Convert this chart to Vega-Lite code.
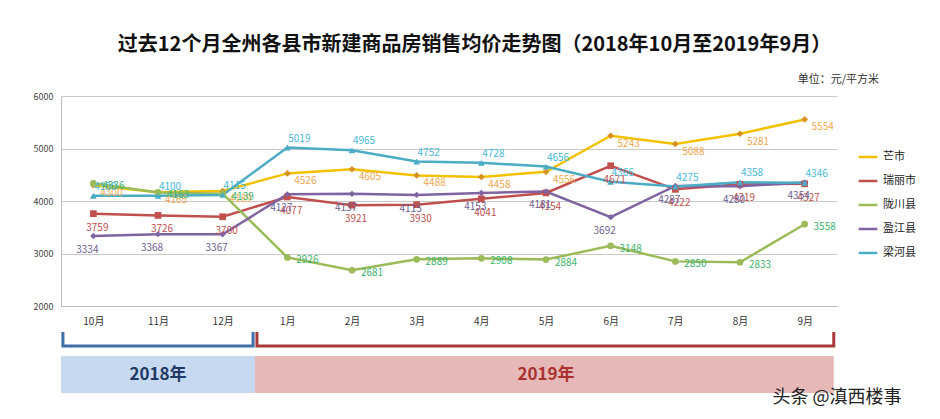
{
  "$schema": "https://vega.github.io/schema/vega-lite/v6.json",
  "background": "white",
  "padding": {"left": 33, "top": 35, "right": 5, "bottom": 5},
  "title": {"text": "过去12个月全州各县市新建商品房销售均价走势图（2018年10月至2019年9月）", "fontSize": 20, "font": "Noto Sans CJK SC", "fontWeight": "bold", "color": "#111", "anchor": "middle", "offset": 19},
  "config": {"font": "Noto Sans CJK SC", "view": {"stroke": null}},
  "spacing": 0,
  "datasets": {
    "prices": [
      {"month": "10月", "series": "芒市", "value": 4300},
      {"month": "11月", "series": "芒市", "value": 4165},
      {"month": "12月", "series": "芒市", "value": 4189},
      {"month": "1月", "series": "芒市", "value": 4526},
      {"month": "2月", "series": "芒市", "value": 4605},
      {"month": "3月", "series": "芒市", "value": 4488},
      {"month": "4月", "series": "芒市", "value": 4458},
      {"month": "5月", "series": "芒市", "value": 4556},
      {"month": "6月", "series": "芒市", "value": 5243},
      {"month": "7月", "series": "芒市", "value": 5088},
      {"month": "8月", "series": "芒市", "value": 5281},
      {"month": "9月", "series": "芒市", "value": 5554},
      {"month": "10月", "series": "瑞丽市", "value": 3759},
      {"month": "11月", "series": "瑞丽市", "value": 3726},
      {"month": "12月", "series": "瑞丽市", "value": 3700},
      {"month": "1月", "series": "瑞丽市", "value": 4077},
      {"month": "2月", "series": "瑞丽市", "value": 3921},
      {"month": "3月", "series": "瑞丽市", "value": 3930},
      {"month": "4月", "series": "瑞丽市", "value": 4041},
      {"month": "5月", "series": "瑞丽市", "value": 4154},
      {"month": "6月", "series": "瑞丽市", "value": 4671},
      {"month": "7月", "series": "瑞丽市", "value": 4222},
      {"month": "8月", "series": "瑞丽市", "value": 4319},
      {"month": "9月", "series": "瑞丽市", "value": 4327},
      {"month": "10月", "series": "陇川县", "value": 4336},
      {"month": "11月", "series": "陇川县", "value": 4163},
      {"month": "12月", "series": "陇川县", "value": 4139},
      {"month": "1月", "series": "陇川县", "value": 2926},
      {"month": "2月", "series": "陇川县", "value": 2681},
      {"month": "3月", "series": "陇川县", "value": 2889},
      {"month": "4月", "series": "陇川县", "value": 2908},
      {"month": "5月", "series": "陇川县", "value": 2884},
      {"month": "6月", "series": "陇川县", "value": 3148},
      {"month": "7月", "series": "陇川县", "value": 2850},
      {"month": "8月", "series": "陇川县", "value": 2833},
      {"month": "9月", "series": "陇川县", "value": 3558},
      {"month": "10月", "series": "盈江县", "value": 3334},
      {"month": "11月", "series": "盈江县", "value": 3368},
      {"month": "12月", "series": "盈江县", "value": 3367},
      {"month": "1月", "series": "盈江县", "value": 4127},
      {"month": "2月", "series": "盈江县", "value": 4137},
      {"month": "3月", "series": "盈江县", "value": 4115},
      {"month": "4月", "series": "盈江县", "value": 4153},
      {"month": "5月", "series": "盈江县", "value": 4181},
      {"month": "6月", "series": "盈江县", "value": 3692},
      {"month": "7月", "series": "盈江县", "value": 4287},
      {"month": "8月", "series": "盈江县", "value": 4280},
      {"month": "9月", "series": "盈江县", "value": 4354},
      {"month": "10月", "series": "梁河县", "value": 4100},
      {"month": "11月", "series": "梁河县", "value": 4100},
      {"month": "12月", "series": "梁河县", "value": 4115},
      {"month": "1月", "series": "梁河县", "value": 5019},
      {"month": "2月", "series": "梁河县", "value": 4965},
      {"month": "3月", "series": "梁河县", "value": 4752},
      {"month": "4月", "series": "梁河县", "value": 4728},
      {"month": "5月", "series": "梁河县", "value": 4656},
      {"month": "6月", "series": "梁河县", "value": 4366},
      {"month": "7月", "series": "梁河县", "value": 4275},
      {"month": "8月", "series": "梁河县", "value": 4358},
      {"month": "9月", "series": "梁河县", "value": 4346}
    ],
    "brackets": [
      {"grp": "2018", "ord": 1, "pos": -0.47, "lvl": 0},
      {"grp": "2018", "ord": 2, "pos": -0.47, "lvl": 14},
      {"grp": "2018", "ord": 3, "pos": 2.47, "lvl": 14},
      {"grp": "2018", "ord": 4, "pos": 2.47, "lvl": 0},
      {"grp": "2019", "ord": 1, "pos": 2.53, "lvl": 0},
      {"grp": "2019", "ord": 2, "pos": 2.53, "lvl": 14},
      {"grp": "2019", "ord": 3, "pos": 11.45, "lvl": 14},
      {"grp": "2019", "ord": 4, "pos": 11.45, "lvl": 0}
    ],
    "years": [
      {"grp": "2018", "label": "2018年", "start": -0.5, "end": 2.5, "mid": 1.0, "top": 24, "bottom": 61, "center": 43},
      {"grp": "2019", "label": "2019年", "start": 2.5, "end": 11.45, "mid": 7.0, "top": 24, "bottom": 61, "center": 43}
    ],
    "marks": [
      {"label": "头条 @滇西楼事", "pos": 11.5, "lvl": 66}
    ]
  },
  "vconcat": [
    {
      "width": 776,
      "height": 210,
      "title": {"text": "单位：元/平方米", "anchor": "end", "frame": "group", "fontSize": 11, "fontWeight": "normal", "color": "#333", "dx": 42, "offset": 7},
      "data": {"name": "prices"},
      "encoding": {
        "x": {"field": "month", "type": "ordinal", "sort": ["10月", "11月", "12月", "1月", "2月", "3月", "4月", "5月", "6月", "7月", "8月", "9月"], "scale": {"padding": 0.5}, "axis": {"title": null, "labelAngle": 0, "labelFontSize": 10, "labelColor": "#333", "labelPadding": 10, "ticks": false, "domainColor": "#BFBFBF", "grid": false}},
        "y": {"field": "value", "type": "quantitative", "scale": {"domain": [2000, 6000]}, "axis": {"title": null, "values": [2000, 3000, 4000, 5000, 6000], "format": "d", "labelFontSize": 9, "labelColor": "#444", "ticks": false, "labelPadding": 8, "domainColor": "#BFBFBF", "gridColor": "#C8C8C8"}}
      },
      "layer": [
        {
          "mark": {"type": "line", "strokeWidth": 2.5},
          "encoding": {
            "color": {"field": "series", "type": "nominal", "scale": {"domain": ["芒市", "瑞丽市", "陇川县", "盈江县", "梁河县"], "range": ["#F2C200", "#C0504D", "#9BBB59", "#8064A2", "#4BACC6"]}, "legend": {"title": null, "orient": "none", "legendX": 796, "legendY": 50, "labelFontSize": 11, "labelColor": "#222", "rowPadding": 8, "symbolType": "stroke", "symbolStrokeWidth": 2.5, "symbolSize": 350}}
          }
        },
        {
          "transform": [{"filter": "datum.series === '芒市'"}],
          "mark": {"type": "point", "filled": true, "size": 45, "opacity": 1, "shape": "diamond", "color": "#D9901E"}
        },
        {
          "transform": [{"filter": "datum.series === '瑞丽市'"}],
          "mark": {"type": "point", "filled": true, "size": 45, "opacity": 1, "shape": "square", "color": "#C0504D"}
        },
        {
          "transform": [{"filter": "datum.series === '陇川县'"}],
          "mark": {"type": "point", "filled": true, "size": 45, "opacity": 1, "shape": "circle", "color": "#9BBB59"}
        },
        {
          "transform": [{"filter": "datum.series === '盈江县'"}],
          "mark": {"type": "point", "filled": true, "size": 40, "opacity": 1, "shape": "diamond", "color": "#8064A2"}
        },
        {
          "transform": [{"filter": "datum.series === '梁河县'"}],
          "mark": {"type": "point", "filled": true, "size": 45, "opacity": 1, "shape": "triangle-up", "color": "#4BACC6"}
        },
        {
          "transform": [{"filter": "datum.series === '芒市'"}],
          "mark": {"type": "text", "fontSize": 10, "color": "#F0A850", "dx": 18, "dy": 8},
          "encoding": {"text": {"field": "value", "type": "quantitative", "format": "d"}}
        },
        {
          "transform": [{"filter": "datum.series === '瑞丽市'"}],
          "mark": {"type": "text", "fontSize": 10, "color": "#C0504D", "dx": 4, "dy": 14},
          "encoding": {"text": {"field": "value", "type": "quantitative", "format": "d"}}
        },
        {
          "transform": [{"filter": "datum.series === '陇川县'"}],
          "mark": {"type": "text", "fontSize": 10, "color": "#3DB56A", "dx": 20, "dy": 3},
          "encoding": {"text": {"field": "value", "type": "quantitative", "format": "d"}}
        },
        {
          "transform": [{"filter": "datum.series === '盈江县'"}],
          "mark": {"type": "text", "fontSize": 10, "color": "#6E5E90", "dx": -6, "dy": 14},
          "encoding": {"text": {"field": "value", "type": "quantitative", "format": "d"}}
        },
        {
          "transform": [{"filter": "datum.series === '梁河县'"}],
          "mark": {"type": "text", "fontSize": 10, "color": "#45B8D8", "dx": 12, "dy": -9},
          "encoding": {"text": {"field": "value", "type": "quantitative", "format": "d"}}
        }
      ]
    },
    {
      "width": 776,
      "height": 61,
      "encoding": {
        "x": {"type": "quantitative", "scale": {"domain": [-0.5, 11.5], "nice": false, "zero": false}, "axis": null},
        "y": {"type": "quantitative", "scale": {"domain": [0, 61], "reverse": true, "nice": false}, "axis": null}
      },
      "layer": [
        {
          "data": {"name": "years"},
          "transform": [{"filter": "datum.grp === '2018'"}],
          "mark": {"type": "rect", "color": "#C6D9F0"},
          "encoding": {"x": {"field": "start", "type": "quantitative"}, "x2": {"field": "end"}, "y": {"field": "top", "type": "quantitative"}, "y2": {"field": "bottom"}}
        },
        {
          "data": {"name": "years"},
          "transform": [{"filter": "datum.grp === '2019'"}],
          "mark": {"type": "rect", "color": "#E6B8B7"},
          "encoding": {"x": {"field": "start", "type": "quantitative"}, "x2": {"field": "end"}, "y": {"field": "top", "type": "quantitative"}, "y2": {"field": "bottom"}}
        },
        {
          "data": {"name": "years"},
          "transform": [{"filter": "datum.grp === '2018'"}],
          "mark": {"type": "text", "fontSize": 17, "fontWeight": "bold", "color": "#1F3864"},
          "encoding": {"x": {"field": "mid", "type": "quantitative"}, "y": {"field": "center", "type": "quantitative"}, "text": {"field": "label"}}
        },
        {
          "data": {"name": "years"},
          "transform": [{"filter": "datum.grp === '2019'"}],
          "mark": {"type": "text", "fontSize": 17, "fontWeight": "bold", "color": "#A8322F"},
          "encoding": {"x": {"field": "mid", "type": "quantitative"}, "y": {"field": "center", "type": "quantitative"}, "text": {"field": "label"}}
        },
        {
          "data": {"name": "brackets"},
          "transform": [{"filter": "datum.grp === '2018'"}],
          "mark": {"type": "line", "color": "#3F6FA8", "strokeWidth": 3},
          "encoding": {"x": {"field": "pos", "type": "quantitative"}, "y": {"field": "lvl", "type": "quantitative"}, "order": {"field": "ord"}}
        },
        {
          "data": {"name": "brackets"},
          "transform": [{"filter": "datum.grp === '2019'"}],
          "mark": {"type": "line", "color": "#A83A3A", "strokeWidth": 3},
          "encoding": {"x": {"field": "pos", "type": "quantitative"}, "y": {"field": "lvl", "type": "quantitative"}, "order": {"field": "ord"}}
        },
        {
          "data": {"name": "marks"},
          "mark": {"type": "text", "fontSize": 18, "color": "#222", "align": "center", "baseline": "middle"},
          "encoding": {"x": {"field": "pos", "type": "quantitative"}, "y": {"field": "lvl", "type": "quantitative"}, "text": {"field": "label"}}
        }
      ]
    }
  ]
}
